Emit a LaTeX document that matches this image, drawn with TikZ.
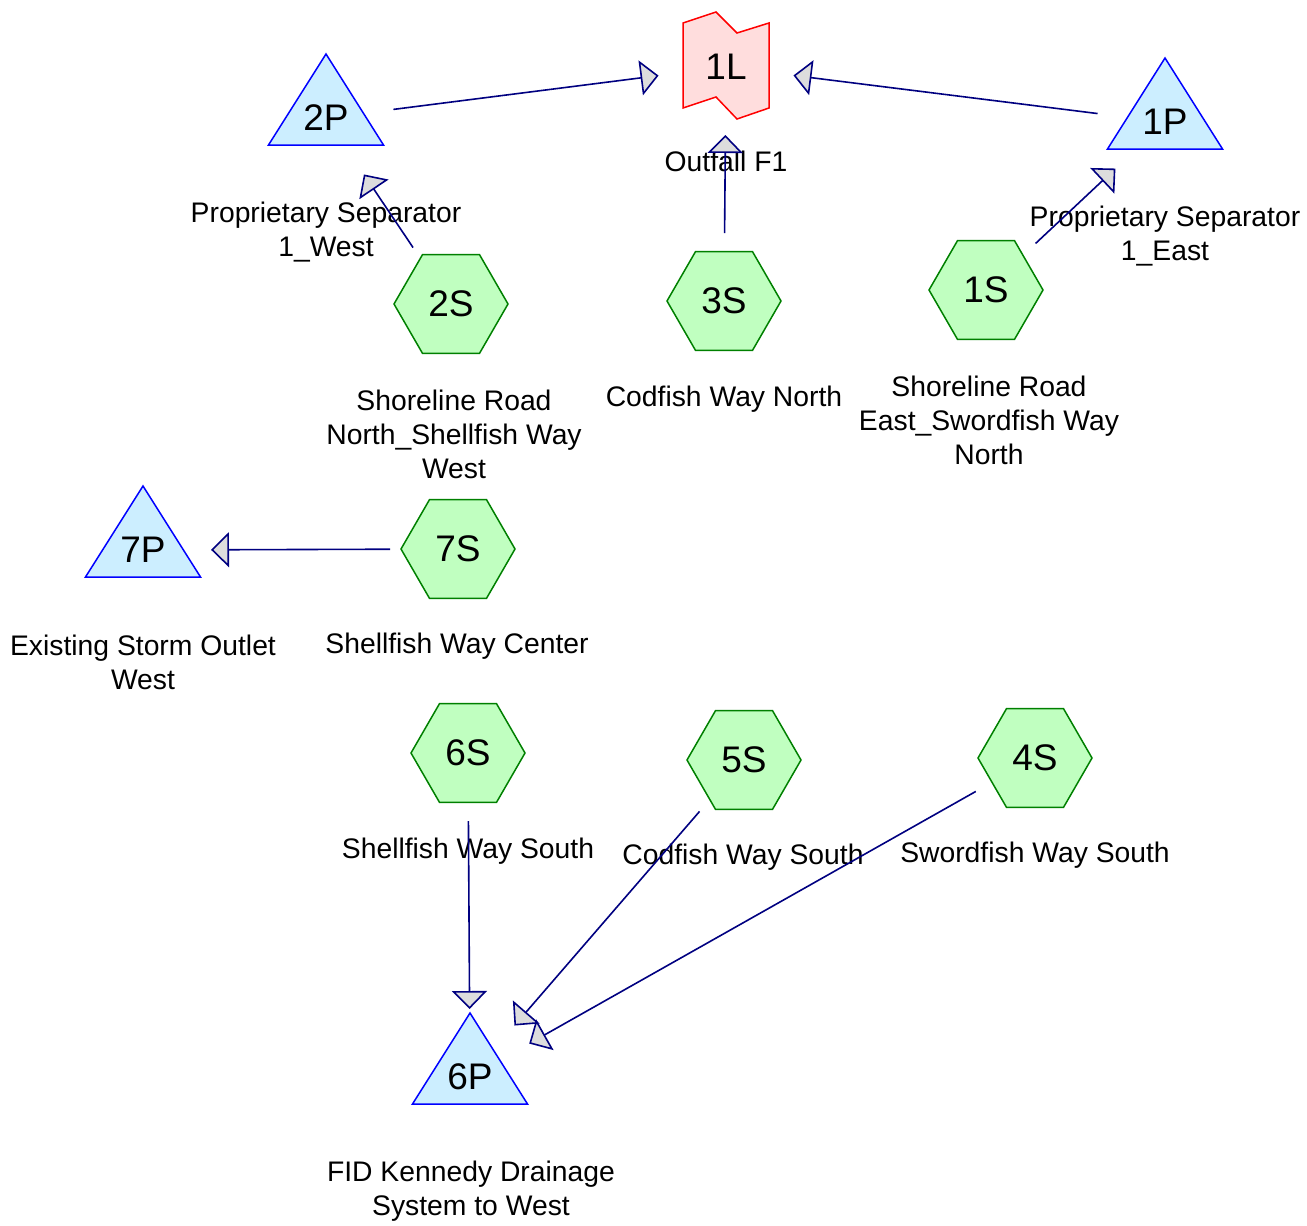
\documentclass[tikz,border=0pt]{standalone}
\usepackage{fontspec}
\setmainfont{Liberation Sans}
\usetikzlibrary{shapes.geometric,arrows.meta}
\definecolor{pondfill}{HTML}{CCEEFF}
\definecolor{pondline}{HTML}{0000FF}
\definecolor{subfill}{HTML}{C0FFC0}
\definecolor{subline}{HTML}{008000}
\definecolor{linkfill}{HTML}{FFDDDD}
\definecolor{linkline}{HTML}{FF0000}
\definecolor{arrline}{HTML}{000080}
\definecolor{tipfill}{HTML}{DDDDDD}
\begin{document}
\begin{tikzpicture}[x=1pt,y=-1pt,
  ntxt/.style={font=\fontsize{37}{40}\selectfont, inner sep=0pt},
  subcat/.style={regular polygon, regular polygon sides=6, minimum size=114pt,
    inner sep=0pt, draw=subline, fill=subfill, line width=1.5pt,
    font=\fontsize{37}{40}\selectfont},
  lbl/.style={font=\fontsize{28.3}{34}\selectfont, align=center, inner sep=0pt},
  flow/.style={draw=arrline, line width=1.6pt, shorten <=68pt, shorten >=68pt,
    -{Triangle[length=18pt,width=35pt,fill=tipfill]}},
  pondsty/.style={draw=pondline, fill=pondfill, line width=1.5pt},
  linksty/.style={draw=linkline, fill=linkfill, line width=1.5pt},
  pond/.pic={\path[pondsty] (0,-64) -- (57.5,27) -- (-57.5,27) -- cycle;}
]
\useasboundingbox (0,0) rectangle (1307,1226);

% reach (link)
\path[linksty] (683,23) -- (716,12) -- (737,33) -- (769,23) -- (769,108)
  -- (737,119) -- (716,97) -- (683,108) -- cycle;
\node[ntxt] (1L) at (726,67) {1L};

% ponds
\pic at (326,118) {pond};
\node[ntxt] (2P) at (326,118) {2P};
\pic at (1165,122) {pond};
\node[ntxt] (1P) at (1165,122) {1P};
\pic at (143,550) {pond};
\node[ntxt] (7P) at (143,550) {7P};
\pic at (470,1077) {pond};
\node[ntxt] (6P) at (470,1077) {6P};

% subcatchments
\node[subcat] (2S) at (451,304) {2S};
\node[subcat] (3S) at (724,301) {3S};
\node[subcat] (1S) at (986,290) {1S};
\node[subcat] (7S) at (458,549) {7S};
\node[subcat] (6S) at (468,753) {6S};
\node[subcat] (5S) at (744,760) {5S};
\node[subcat] (4S) at (1035,758) {4S};

% labels
\node[lbl] (l1L) at (726,161) {Outfall F1};
\node[lbl] (l2P) at (326,232) {Proprietary Separator\\1\_West};
\node[lbl] (l1P) at (1165,236) {Proprietary Separator\\1\_East};
\node[lbl] (l2S) at (454,434) {Shoreline Road\\North\_Shellfish Way\\West};
\node[lbl] (l3S) at (724,399) {Codfish Way North};
\node[lbl] (l1S) at (989,420) {Shoreline Road\\East\_Swordfish Way\\North};
\node[lbl] (l7P) at (143,662) {Existing Storm Outlet\\West};
\node[lbl] (l7S) at (457,646) {Shellfish Way Center};
\node[lbl] (l6S) at (468,851) {Shellfish Way South};
\node[lbl] (l5S) at (743,857) {Codfish Way South};
\node[lbl] (l4S) at (1035,855) {Swordfish Way South};
\node[lbl] (l6P) at (471,1191) {FID Kennedy Drainage\\System to West};

% flows
\draw[flow] (2P.center) -- (1L.center);
\draw[flow] (1P.center) -- (1L.center);
\draw[flow] (3S.center) -- (1L.center);
\draw[flow] (2S.center) -- (2P.center);
\draw[flow] (1S.center) -- (1P.center);
\draw[flow] (7S.center) -- (7P.center);
\draw[flow] (6S.center) -- (6P.center);
\draw[flow] (5S.center) -- (6P.center);
\draw[flow] (4S.center) -- (6P.center);
\end{tikzpicture}
\end{document}
